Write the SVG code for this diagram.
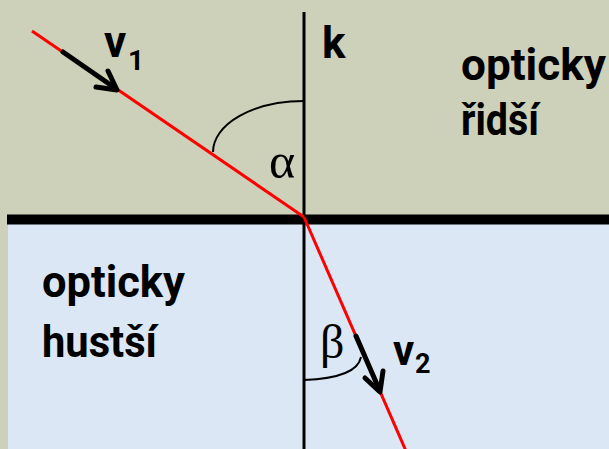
<svg xmlns="http://www.w3.org/2000/svg" width="609" height="449" viewBox="0 0 609 449">
<style>
.lbl{font-family:Roboto,"Liberation Sans",sans-serif;font-weight:bold;fill:#000}
.greek{font-family:"Liberation Serif","DejaVu Serif",serif;fill:#000}
.ray{stroke:#FF0000;stroke-width:3;fill:none}
.vec{stroke:#000;stroke-width:5;fill:none;stroke-linecap:round;stroke-linejoin:round}
.arc{stroke:#000;stroke-width:2;fill:none}
</style>
<rect id="upper-medium" x="0" y="0" width="609" height="449" fill="#CDD1BA"/>
<rect id="lower-medium" x="8" y="224" width="601" height="225" fill="#DBE7F4"/>
<g id="normal">
<line x1="304" y1="12" x2="304" y2="449" stroke="#000" stroke-width="3"/>
</g>
<g id="interface">
<line x1="7" y1="219.5" x2="609" y2="219.5" stroke="#000" stroke-width="10"/>
</g>
<g id="connectors">
<line class="ray" x1="32" y1="31" x2="304" y2="217"/>
<line class="ray" x1="304" y1="217" x2="406" y2="451"/>
<path class="arc" d="M304,101 A91,51 0 0 0 213,152"/>
<path class="arc" d="M304,380 Q357,378 361,357"/>
<line class="vec" x1="63" y1="52" x2="115" y2="88"/>
<polyline class="vec" points="96,87 117,90 108,71"/>
<line class="vec" x1="356" y1="336" x2="379" y2="389"/>
<polyline class="vec" points="365,378 380,392 383,371"/>
</g>
<g id="labels">
<text class="lbl" x="104" y="57" font-size="44">v</text>
<text class="lbl" x="128" y="70" font-size="28">1</text>
<text class="lbl" x="322" y="58" font-size="44">k</text>
<text class="greek" x="269" y="178" font-size="50">α</text>
<text class="greek" x="320" y="358" font-size="48">β</text>
<text class="lbl" x="393" y="365" font-size="42">v</text>
<text class="lbl" x="415" y="373" font-size="27">2</text>
<text class="lbl" x="461" y="80" font-size="45" textLength="145" lengthAdjust="spacingAndGlyphs">opticky</text>
<text class="lbl" x="461" y="135" font-size="45" textLength="78" lengthAdjust="spacingAndGlyphs">řidší</text>
<text class="lbl" x="42" y="297" font-size="45" textLength="143" lengthAdjust="spacingAndGlyphs">opticky</text>
<text class="lbl" x="42" y="357" font-size="45" textLength="115" lengthAdjust="spacingAndGlyphs">hustší</text>
</g>
</svg>
